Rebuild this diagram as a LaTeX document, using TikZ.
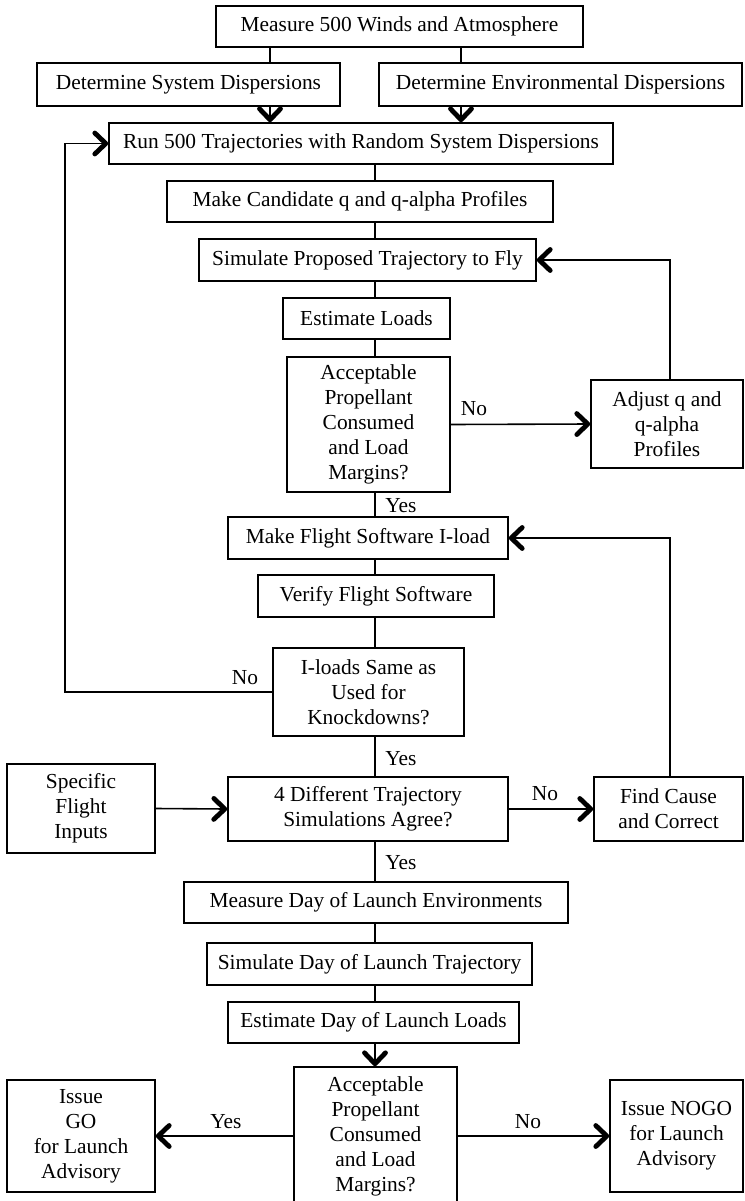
\documentclass[tikz,border=0pt]{standalone}
\usepackage{fontspec}
\setmainfont{Liberation Serif}
\usetikzlibrary{arrows.meta}
\newcommand{\fsz}{\fontsize{21.4}{25}\selectfont}
\begin{document}
\begin{tikzpicture}[x=1pt,y=-1pt,
  box/.style={draw, line width=1.6pt, inner sep=0pt, align=center, font=\fsz},
  conn/.style={line width=1.6pt},
  arr/.style={line width=1.6pt, -{Straight Barb[length=11pt,width=21pt,line width=4.8pt,round]}},
  lbl/.style={font=\fsz, inner sep=0pt}]
\useasboundingbox (0,0) rectangle (744,1201);
\coordinate (sp) at (375,0);
\coordinate (ds) at (270,0);
\coordinate (de) at (461,0);
\coordinate (rx) at (670,0);
\coordinate (lx) at (65,0);
% nodes
\node[box, minimum width=367pt, minimum height=41pt] (m500) at (399.5,26.5) {Measure 500 Winds and Atmosphere};
\node[box, minimum width=303pt, minimum height=43pt] (dsys) at (188.5,84.5) {Determine System Dispersions};
\node[box, minimum width=363pt, minimum height=43pt] (denv) at (560.5,84.5) {Determine Environmental Dispersions};
\node[box, minimum width=504pt, minimum height=41pt] (run) at (361,143.5) {Run 500 Trajectories with Random System Dispersions};
\node[box, minimum width=386pt, minimum height=41pt] (mc) at (360,201.5) {Make Candidate q and q-alpha Profiles};
\node[box, minimum width=337pt, minimum height=42pt] (sim) at (367.5,260) {Simulate Proposed Trajectory to Fly};
\node[box, minimum width=167pt, minimum height=41pt] (el) at (366.5,318.5) {Estimate Loads};
\node[box, minimum width=163pt, minimum height=135pt] (a1) at (368.5,424.5) {Acceptable\\Propellant\\Consumed\\and Load\\Margins?};
\node[box, minimum width=152pt, minimum height=88pt] (adj) at (667,424) {Adjust q and\\q-alpha\\Profiles};
\node[box, minimum width=280pt, minimum height=42pt] (mf) at (368,538) {Make Flight Software I-load};
\node[box, minimum width=236pt, minimum height=42pt] (vf) at (376,596) {Verify Flight Software};
\node[box, minimum width=191pt, minimum height=88pt] (il) at (368.5,692) {I-loads Same as\\Used for\\Knockdowns?};
\node[box, minimum width=148pt, minimum height=89pt] (spec) at (81,808.5) {Specific\\Flight\\Inputs};
\node[box, minimum width=280pt, minimum height=64pt] (fd) at (368,809) {4 Different Trajectory\\Simulations Agree?};
\node[box, minimum width=149pt, minimum height=64pt] (fc) at (668.5,809) {Find Cause\\and Correct};
\node[box, minimum width=384pt, minimum height=41pt] (md) at (376,902.5) {Measure Day of Launch Environments};
\node[box, minimum width=325pt, minimum height=42pt] (sd) at (369.5,964) {Simulate Day of Launch Trajectory};
\node[box, minimum width=291pt, minimum height=41pt] (ed) at (373.5,1022.5) {Estimate Day of Launch Loads};
\node[box, minimum width=163pt, minimum height=138pt] (a2) at (375.5,1136) {Acceptable\\Propellant\\Consumed\\and Load\\Margins?};
\node[box, minimum width=148pt, minimum height=112pt] (go) at (81,1136) {Issue\\GO\\for Launch\\Advisory};
\node[box, minimum width=133pt, minimum height=112pt] (nogo) at (676.5,1136) {Issue NOGO\\for Launch\\Advisory};
% connectors
\draw[conn] (m500.south -| ds) -- (dsys.north -| ds);
\draw[conn] (m500.south -| de) -- (denv.north -| de);
\draw[arr] (dsys.south -| ds) -- (run.north -| ds);
\draw[arr] (denv.south -| de) -- (run.north -| de);
\draw[conn] (run.south -| sp) -- (mc.north -| sp);
\draw[conn] (mc.south -| sp) -- (sim.north -| sp);
\draw[conn] (sim.south -| sp) -- (el.north -| sp);
\draw[conn] (el.south -| sp) -- (a1.north -| sp);
\draw[arr] (a1.east) -- (adj.west);
\draw[arr] (adj.north -| rx) |- (sim.east);
\draw[conn] (a1.south -| sp) -- (mf.north -| sp);
\draw[conn] (mf.south -| sp) -- (vf.north -| sp);
\draw[conn] (vf.south -| sp) -- (il.north -| sp);
\draw[arr] (il.west) -| (lx |- run.west) -- (run.west);
\draw[conn] (il.south -| sp) -- (fd.north -| sp);
\draw[arr] (spec.east) -- (fd.west);
\draw[arr] (fd.east) -- (fc.west);
\draw[arr] (fc.north -| rx) |- (mf.east);
\draw[conn] (fd.south -| sp) -- (md.north -| sp);
\draw[conn] (md.south -| sp) -- (sd.north -| sp);
\draw[conn] (sd.south -| sp) -- (ed.north -| sp);
\draw[arr] (ed.south -| sp) -- (a2.north -| sp);
\draw[arr] (a2.west) -- (go.east);
\draw[arr] (a2.east) -- (nogo.west);
% labels
\node[lbl] (l1) at (474,409) {No};
\node[lbl] (l2) at (401,506) {Yes};
\node[lbl] (l3) at (245,678) {No};
\node[lbl] (l4) at (401,759) {Yes};
\node[lbl] (l5) at (545,794) {No};
\node[lbl] (l6) at (401,863) {Yes};
\node[lbl] (l7) at (226,1122) {Yes};
\node[lbl] (l8) at (528,1122) {No};
\end{tikzpicture}
\end{document}
